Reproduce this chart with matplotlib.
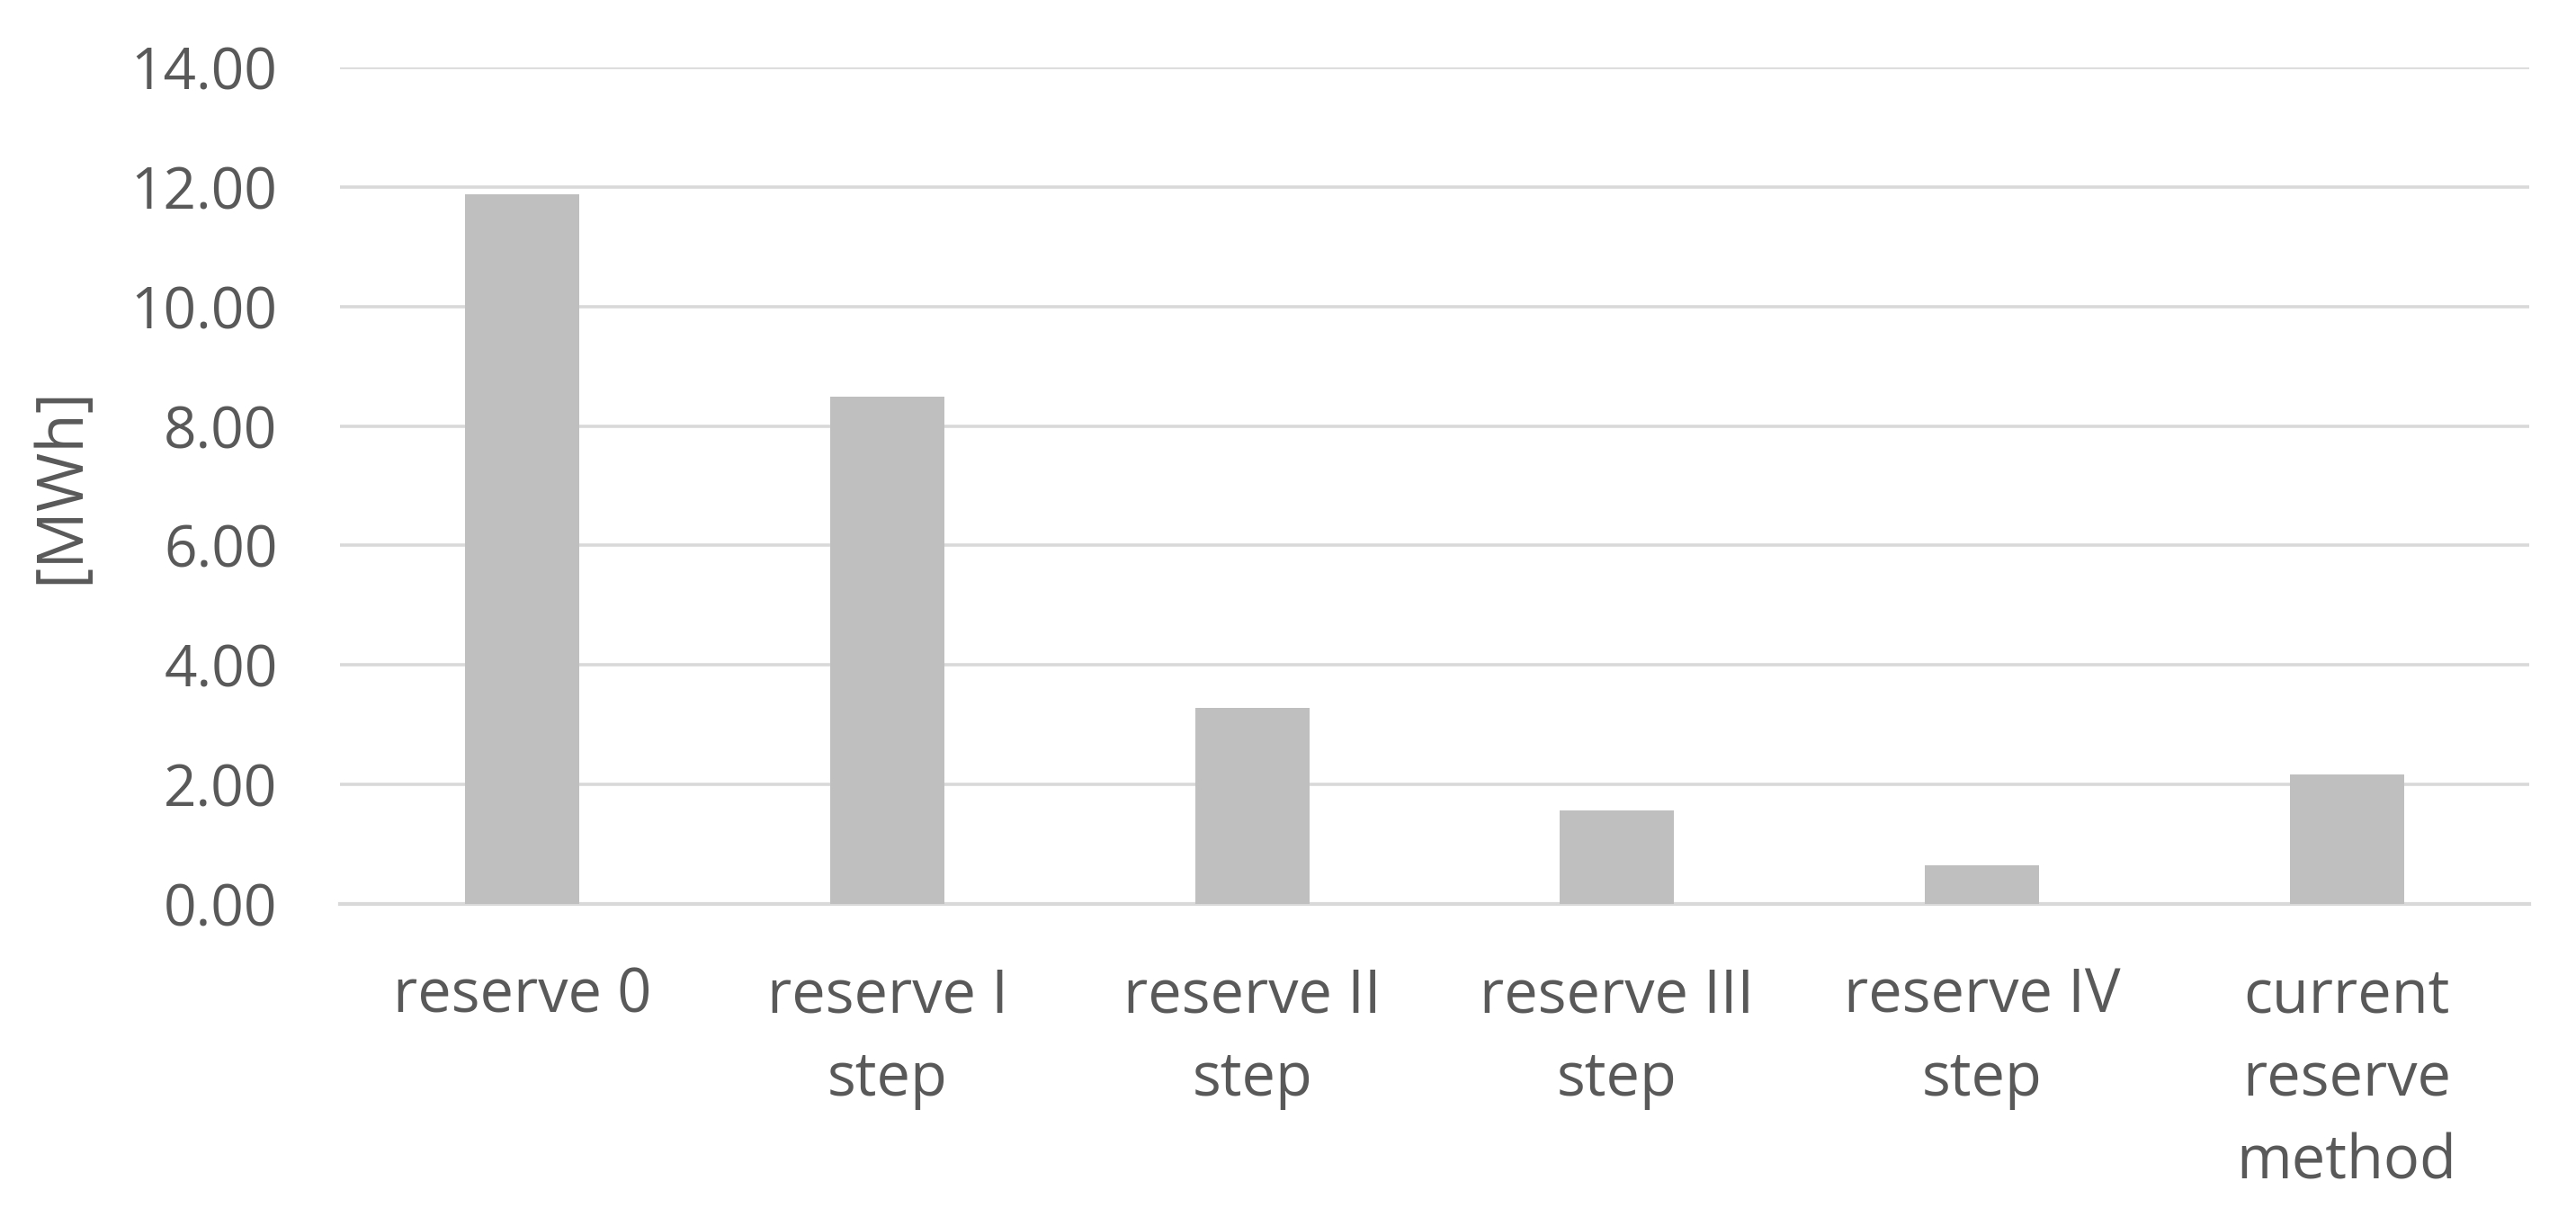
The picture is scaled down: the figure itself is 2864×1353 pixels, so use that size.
import matplotlib
matplotlib.use("Agg")
import matplotlib.pyplot as plt
import numpy as np

categories = [
    "reserve 0",
    "reserve I\nstep",
    "reserve II\nstep",
    "reserve III\nstep",
    "reserve IV\nstep",
    "current\nreserve\nmethod",
]
energy = [11.87, 8.49, 3.28, 1.57, 0.65, 2.17]  # [MWh]
yticks = [0, 2, 4, 6, 8, 10, 12, 14]

plt.rcParams["font.family"] = ["Open Sans", "DejaVu Sans"]
text_col = "#595959"

fig = plt.figure(figsize=(14.32, 6.765), dpi=200)
ax = fig.add_axes([0.132, 0.2572, 0.8498, 0.6874])

x = np.arange(len(categories))
ax.bar(x, energy, width=0.313, color="#bfbfbf", zorder=3)

ax.set_xlim(-0.5, len(categories) - 0.5)
ax.set_ylim(0, 14)
ax.set_yticks(yticks)
ax.set_yticklabels(["%.2f" % v for v in yticks])
ax.set_xticks(x)
ax.set_xticklabels(categories, linespacing=1.48)

ax.yaxis.grid(True, color="#d9d9d9", linewidth=1.3, zorder=0)
ax.set_axisbelow(True)
for s in ["top", "right", "left"]:
    ax.spines[s].set_visible(False)
ax.spines["bottom"].set_color("#d9d9d9")
ax.spines["bottom"].set_linewidth(1.5)

ax.tick_params(axis="y", length=0, pad=25, labelsize=23, labelcolor=text_col)
ax.tick_params(axis="x", length=0, pad=25, labelsize=24, labelcolor=text_col)
ax.set_ylabel("[MWh]", fontsize=25.5, color=text_col, labelpad=15)

fig.savefig("out.png", dpi=200)
